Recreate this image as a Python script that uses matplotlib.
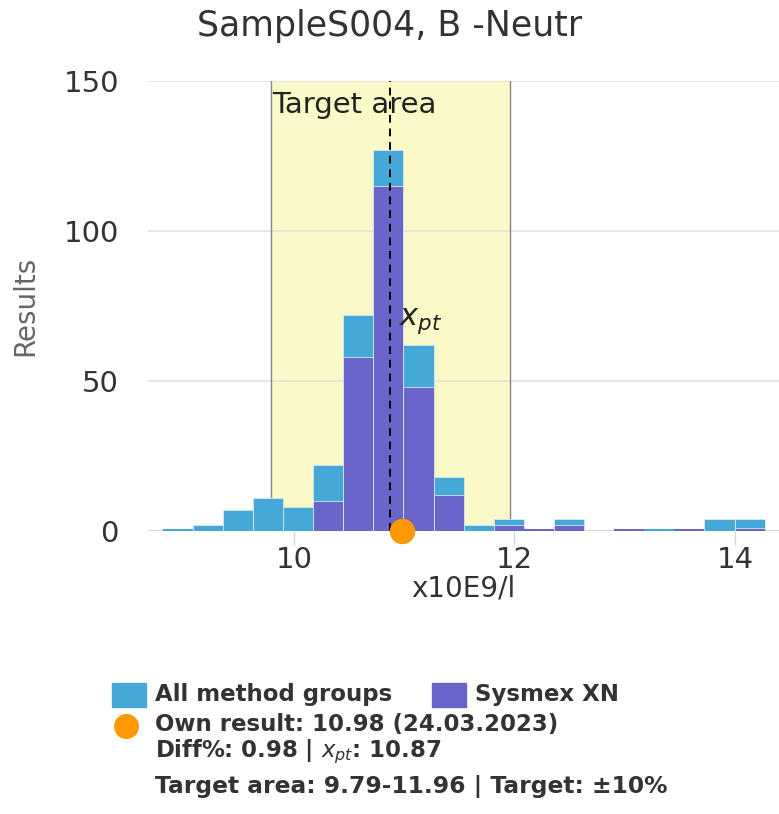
import matplotlib
matplotlib.use("Agg")
import matplotlib.pyplot as plt
from matplotlib.patches import Rectangle
from matplotlib.lines import Line2D

# histogram bins (x10E9/l)
bin_start = 8.809
bin_width = 0.273
all_counts = [0.6, 2, 7, 11, 8, 22, 72, 127, 62, 18, 2, 4, 0.6, 4, 0, 0.6, 0.6, 0.6, 4, 4]
sysmex_counts = [0, 0, 0, 0, 0, 10, 58, 115, 48, 12, 0, 2, 0.6, 2, 0, 0.6, 0, 0.6, 0, 1]

x_pt = 10.87
own_result = 10.98
target_low, target_high = 9.79, 11.96

title = "SampleS004, B -Neutr"
x_ticks = [10, 12, 14]
y_ticks = [0, 50, 100, 150]

c_all = "#44a9d6"
c_sys = "#6a65c8"
c_own = "#ff9800"
c_text = "#333333"

W, H = 779, 814
fig = plt.figure(figsize=(W / 100, H / 100), dpi=100)
ax = fig.add_axes([148 / W, (H - 531) / H, (779 - 148) / W, (531 - 81) / H])

ax.set_xlim(8.676, 14.399)
ax.set_ylim(0, 150)

# target area band
ax.axvspan(target_low, target_high, color="#fafac8", zorder=0)
for v in (target_low, target_high):
    ax.axvline(v, color="#888888", lw=1, zorder=1)
ax.text(target_low + 0.01, 142, "Target area", fontsize=21, color="#222222",
        va="center", ha="left", zorder=5)

for y in y_ticks[1:]:
    ax.axhline(y, color="#e0e0e0", lw=1.2, zorder=0.5)
ax.axhline(0, color="#ccd6eb", lw=1.5, zorder=0.5)

# thin bars get no border so they stay visible
lefts = [bin_start + i * bin_width for i in range(len(all_counts))]
for counts, col, z in ((all_counts, c_all, 2), (sysmex_counts, c_sys, 3)):
    lws = [0.6 if c >= 1 else 0 for c in counts]
    ax.bar(lefts, counts, width=bin_width, align="edge", color=col,
           edgecolor="#d8e8f0", linewidth=lws, zorder=z)

ax.plot([x_pt, x_pt], [0, 150], color="black", lw=1.4, ls=(0, (4, 3)), zorder=4)
ax.text(x_pt + 0.08, 70, r"$x_{pt}$", fontsize=22, color="#222222",
        va="center", zorder=5)

ax.scatter([own_result], [0], s=300, color=c_own, zorder=6, clip_on=False)

for s in ax.spines.values():
    s.set_visible(False)
ax.set_xticks(x_ticks)
ax.set_yticks(y_ticks)
ax.tick_params(axis="x", length=10, width=1, color="#ccd6eb", labelsize=21,
               labelcolor=c_text, pad=1)
ax.tick_params(axis="y", length=0, labelsize=21, labelcolor=c_text, pad=21)
ax.set_xlabel("x10E9/l", fontsize=20, color=c_text, labelpad=0)
ax.set_ylabel("Results", fontsize=20, color="#666666")
ax.yaxis.set_label_coords(-0.172, 0.5)

fig.text(390 / W, 1 - 26 / H, title, fontsize=25, color=c_text,
         ha="center", va="center")

# legend block
fig.add_artist(Rectangle((112 / W, 1 - 707 / H), 34 / W, 24 / H,
                         transform=fig.transFigure, color=c_all))
fig.text(155 / W, 1 - 695 / H, "All method groups", fontsize=16.5,
         fontweight="bold", color=c_text, va="center")
fig.add_artist(Rectangle((432 / W, 1 - 707 / H), 34 / W, 24 / H,
                         transform=fig.transFigure, color=c_sys))
fig.text(475 / W, 1 - 695 / H, "Sysmex XN", fontsize=16.5,
         fontweight="bold", color=c_text, va="center")
fig.add_artist(Line2D([126 / W], [1 - 726 / H], marker="o", markersize=17,
                      color=c_own, transform=fig.transFigure))
fig.text(155 / W, 1 - 724 / H, "Own result: 10.98 (24.03.2023)", fontsize=16.5,
         fontweight="bold", color=c_text, va="center")
fig.text(155 / W, 1 - 752 / H, r"Diff%: 0.98 | $\mathbf{\mathit{x_{pt}}}$: 10.87",
         fontsize=16.5, fontweight="bold", color=c_text, va="center")
fig.text(155 / W, 1 - 787 / H, "Target area: 9.79-11.96 | Target: ±10%",
         fontsize=16.8, fontweight="bold", color=c_text, va="center")

fig.savefig("out.png", dpi=100)
